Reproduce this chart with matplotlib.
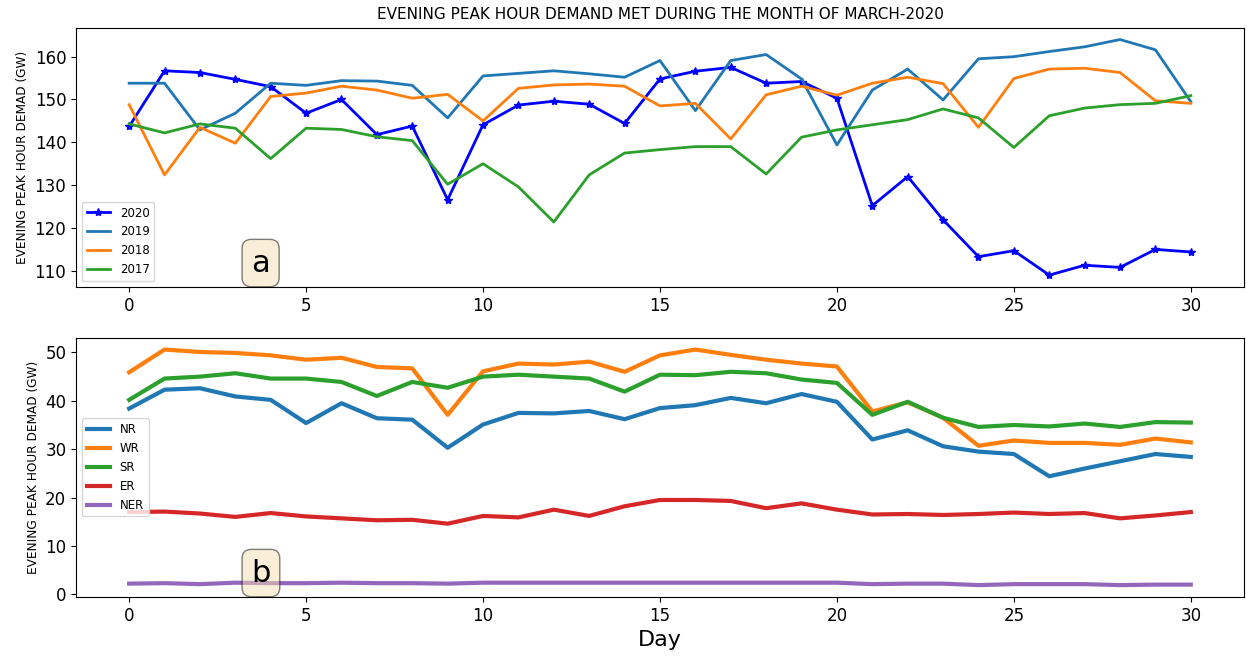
import numpy as np
import matplotlib
matplotlib.use('Agg')
import matplotlib.pyplot as plt

days = np.arange(31)

# evening peak demand, all India (GW)
y2020 = [143.7, 156.7, 156.3, 154.7, 153.0, 146.8, 150.0, 141.8, 143.8, 126.6,
         144.1, 148.7, 149.6, 148.9, 144.4, 154.8, 156.6, 157.5, 153.8, 154.2,
         150.3, 125.2, 132.0, 121.9, 113.3, 114.7, 109.0, 111.3, 110.8, 115.0, 114.4]
y2019 = [153.8, 153.8, 142.9, 146.8, 153.8, 153.3, 154.4, 154.3, 153.3, 145.7,
         155.5, 156.1, 156.7, 156.0, 155.2, 159.1, 147.4, 159.1, 160.5, 154.8,
         139.4, 152.2, 157.1, 149.9, 159.5, 160.0, 161.2, 162.3, 164.0, 161.6, 149.5]
y2018 = [148.8, 132.4, 143.5, 139.8, 150.7, 151.5, 153.1, 152.2, 150.3, 151.2,
         145.0, 152.6, 153.4, 153.6, 153.1, 148.5, 149.1, 140.8, 151.1, 153.1,
         151.0, 153.8, 155.2, 153.7, 143.5, 154.9, 157.1, 157.3, 156.3, 149.7, 149.1]
y2017 = [144.3, 142.2, 144.3, 143.3, 136.2, 143.3, 143.0, 141.3, 140.4, 130.2,
         135.0, 129.6, 121.4, 132.4, 137.5, 138.3, 139.0, 139.0, 132.6, 141.2,
         142.9, 144.1, 145.3, 147.8, 145.7, 138.8, 146.2, 148.0, 148.8, 149.1, 150.9]

# regional evening peak demand, March 2020 (GW)
nr = [38.4, 42.3, 42.6, 40.9, 40.2, 35.4, 39.5, 36.4, 36.1, 30.3,
      35.1, 37.5, 37.4, 37.9, 36.2, 38.5, 39.1, 40.6, 39.5, 41.4,
      39.8, 32.0, 33.9, 30.6, 29.5, 29.0, 24.4, 26.0, 27.5, 29.0, 28.4]
wr = [45.9, 50.6, 50.1, 49.9, 49.4, 48.5, 48.9, 47.0, 46.7, 37.1,
      46.1, 47.7, 47.5, 48.1, 46.0, 49.4, 50.6, 49.5, 48.5, 47.7,
      47.1, 37.8, 39.7, 36.5, 30.7, 31.8, 31.3, 31.3, 30.9, 32.2, 31.4]
sr = [40.2, 44.6, 45.0, 45.7, 44.6, 44.6, 43.9, 41.0, 43.9, 42.7,
      45.0, 45.4, 45.0, 44.6, 41.9, 45.4, 45.3, 46.0, 45.7, 44.4,
      43.7, 37.1, 39.8, 36.5, 34.6, 35.0, 34.7, 35.3, 34.6, 35.6, 35.5]
er = [17.0, 17.1, 16.7, 16.0, 16.8, 16.1, 15.7, 15.3, 15.4, 14.6,
      16.2, 15.9, 17.5, 16.2, 18.2, 19.5, 19.5, 19.3, 17.8, 18.8,
      17.5, 16.5, 16.6, 16.4, 16.6, 16.9, 16.6, 16.8, 15.7, 16.3, 17.0]
ner = [2.2, 2.3, 2.1, 2.4, 2.3, 2.3, 2.4, 2.3, 2.3, 2.2,
       2.4, 2.4, 2.4, 2.4, 2.4, 2.4, 2.4, 2.4, 2.4, 2.4,
       2.4, 2.1, 2.2, 2.2, 1.9, 2.1, 2.1, 2.1, 1.9, 2.0, 2.0]

fig = plt.figure(figsize=(12.47, 6.61), dpi=100)
ax1 = fig.add_axes([0.061, 0.566, 0.9365, 0.392])
ax2 = fig.add_axes([0.061, 0.097, 0.9365, 0.392])

box = dict(boxstyle='round', facecolor='wheat', alpha=0.5)

# panel a
ax1.plot(days, y2020, color='blue', marker='*', markersize=6, linewidth=2, label='2020')
ax1.plot(days, y2019, color='tab:blue', linewidth=2, label='2019')
ax1.plot(days, y2018, color='tab:orange', linewidth=2, label='2018')
ax1.plot(days, y2017, color='tab:green', linewidth=2, label='2017')
ax1.set_title('EVENING PEAK HOUR DEMAND MET DURING THE MONTH OF MARCH-2020', fontsize=11)
ax1.set_ylabel('EVENING PEAK HOUR DEMAD (GW)', fontsize=8.7)
ax1.tick_params(labelsize=12)
ax1.legend(loc='lower left', fontsize=8.5)
ax1.text(0.150, 0.036, 'a', transform=ax1.transAxes, fontsize=22, va='bottom', bbox=box)

# panel b
ax2.plot(days, nr, color='tab:blue', linewidth=3, label='NR')
ax2.plot(days, wr, color='tab:orange', linewidth=3, label='WR')
ax2.plot(days, sr, color='tab:green', linewidth=3, label='SR')
ax2.plot(days, er, color='tab:red', linewidth=3, label='ER')
ax2.plot(days, ner, color='tab:purple', linewidth=3, label='NER')
ax2.set_ylabel('EVENING PEAK HOUR DEMAD (GW)', fontsize=8.7)
ax2.set_xlabel('Day', fontsize=16)
ax2.tick_params(labelsize=12)
ax2.legend(loc='center left', fontsize=8.5)
ax2.text(0.150, 0.036, 'b', transform=ax2.transAxes, fontsize=22, va='bottom', bbox=box)

fig.savefig('out.png', dpi=100)
